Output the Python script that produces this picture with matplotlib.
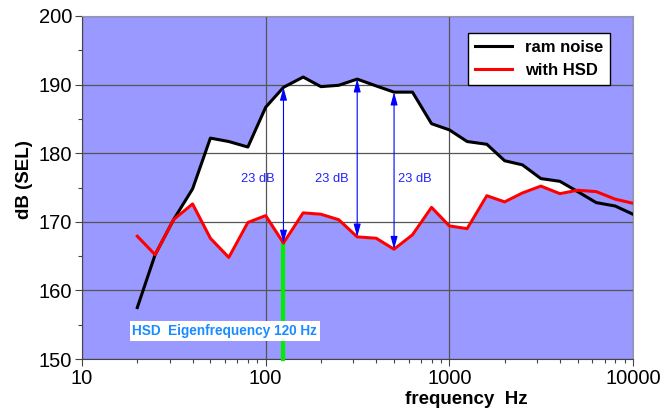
import matplotlib
matplotlib.use('Agg')
import matplotlib.pyplot as plt
from matplotlib.ticker import FixedLocator, NullFormatter

plt.rcParams['font.family'] = ['Liberation Sans', 'DejaVu Sans']

# 1/3 octave band centre frequencies
freq = [20, 25, 31.5, 40, 50, 63, 80, 100, 125, 160, 200, 250, 315, 400, 500,
        630, 800, 1000, 1250, 1600, 2000, 2500, 3150, 4000, 5000, 6300, 8000, 10000]
ram_noise = [157.5, 165.2, 170.3, 174.8, 182.2, 181.7, 180.9, 186.7, 189.6, 191.1,
             189.7, 189.9, 190.8, 189.8, 188.9, 188.9, 184.3, 183.4, 181.7, 181.3,
             178.9, 178.3, 176.3, 175.9, 174.4, 172.8, 172.3, 171.1]
with_hsd = [167.9, 165.2, 170.3, 172.6, 167.6, 164.8, 169.9, 170.9, 166.9, 171.3,
            171.1, 170.3, 167.8, 167.6, 166.0, 168.1, 172.1, 169.4, 169.0, 173.8,
            172.9, 174.2, 175.2, 174.1, 174.6, 174.4, 173.3, 172.7]

# where the 23 dB arrows go
arrow_freq = [125, 315, 500]
arrow_label = ['23 dB', '23 dB', '23 dB']
eigen_freq = 125

bg = '#9999ff'

fig = plt.figure(figsize=(6.7, 4.12), dpi=100)
ax = fig.add_axes([0.1224, 0.1286, 0.8224, 0.8326])
ax.set_facecolor(bg)

ax.set_xscale('log')
ax.set_xlim(10, 10000)
ax.set_ylim(150, 200)

# white area between the two curves
ax.fill_between(freq, with_hsd, ram_noise,
                where=[b > r for b, r in zip(ram_noise, with_hsd)],
                interpolate=True, color='white', zorder=1)

ax.grid(True, which='major', color='#555555', lw=0.9, zorder=2)

ax.plot(freq, ram_noise, color='black', lw=2.2, label='ram noise', zorder=4)
ax.plot(freq, with_hsd, color='#ff0000', lw=2.2, label='with HSD', zorder=4)

# double arrows
for i, f in enumerate(arrow_freq):
    lo = with_hsd[freq.index(f)]
    hi = ram_noise[freq.index(f)]
    ax.annotate('', xy=(f, hi), xytext=(f, lo),
                arrowprops=dict(arrowstyle='<|-|>,head_length=1.1,head_width=0.3',
                                color='#0000ff', lw=0.8,
                                mutation_scale=7, shrinkA=0, shrinkB=0), zorder=5)
    if i < 2:
        ax.text(f * 0.9, 176.2, arrow_label[i], color='#2222ff', fontsize=9.3,
                ha='right', va='center', zorder=5)
    else:
        ax.text(f * 1.05, 176.2, arrow_label[i], color='#2222ff', fontsize=9.3,
                ha='left', va='center', zorder=5)

# eigenfrequency marker
ax.plot([eigen_freq, eigen_freq], [150, with_hsd[freq.index(eigen_freq)]],
        color='#00ee00', lw=3, zorder=3, clip_on=False)
ax.text(18.8, 154.1, 'HSD  Eigenfrequency 120 Hz', color='#1a8cff', fontsize=9.8,
        fontweight='bold', ha='left', va='center', zorder=6,
        bbox=dict(facecolor='white', edgecolor='none', pad=2))

# ticks
ax.set_xticks([10, 100, 1000, 10000])
ax.set_xticklabels(['10', '100', '1000', '10000'])
ax.xaxis.set_minor_locator(FixedLocator([m * 10 ** d for d in range(1, 4) for m in range(2, 10)]))
ax.xaxis.set_minor_formatter(NullFormatter())
ax.set_yticks([150, 160, 170, 180, 190, 200])
ax.yaxis.set_minor_locator(FixedLocator([155, 165, 175, 185, 195]))
ax.tick_params(which='major', direction='out', length=5, width=0.8, color='#444444',
               labelsize=14.5, pad=2)
ax.tick_params(which='minor', direction='out', length=3, width=0.8, color='#444444')

for side in ['left', 'bottom']:
    ax.spines[side].set_color('#444444')
for side in ['top', 'right']:
    ax.spines[side].set_color('#999999')

ax.set_xlabel('frequency  Hz', fontsize=13.5, fontweight='bold', labelpad=2, x=0.697)
ax.set_ylabel('dB (SEL)', fontsize=13.5, fontweight='bold', labelpad=4, y=0.523)

leg = ax.legend(loc='upper right', bbox_to_anchor=(0.958, 0.950), borderaxespad=0,
                fancybox=False, framealpha=1, edgecolor='black',
                prop={'weight': 'bold', 'size': 12}, handlelength=2.2)
leg.get_frame().set_linewidth(1.0)
leg.set_zorder(7)

fig.savefig('out.png', dpi=100)
